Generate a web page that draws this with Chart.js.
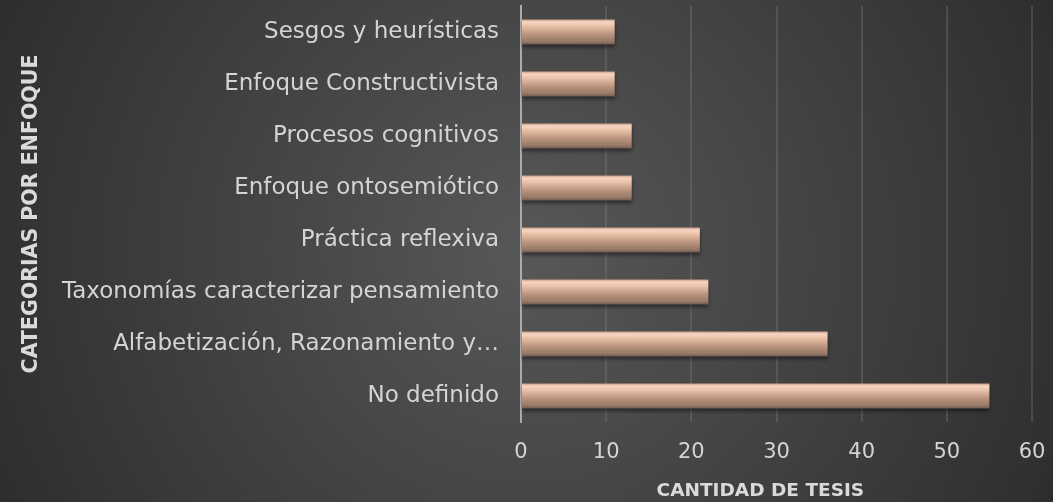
<!DOCTYPE html>
<html>
<head>
<meta charset="utf-8">
<script src="https://cdn.jsdelivr.net/npm/chart.js@4.4.0/dist/chart.umd.min.js"></script>
<style>
  html, body { margin: 0; padding: 0; background: #333; }
  #wrap { width: 1053px; height: 502px; }
</style>
</head>
<body>
<div id="wrap"><canvas id="myChart"></canvas></div>
<script>
// categories top -> bottom
var categories = ['Sesgos y heurísticas', 'Enfoque Constructivista', 'Procesos cognitivos', 'Enfoque ontosemiótico',
  'Práctica reflexiva', 'Taxonomías caracterizar pensamiento', 'Alfabetización, Razonamiento y…', 'No definido'];
var tesis = [11, 11, 13, 13, 21, 22, 36, 55];
var xTicks = [0, 10, 20, 30, 40, 50, 60];

var fontName = "'DejaVu Sans', sans-serif";

// radial dark background
var bgPlugin = {
  id: 'bg',
  beforeDraw: function(chart) {
    var c = chart.ctx, w = chart.width, h = chart.height;
    var g = c.createRadialGradient(w * 0.5, h * 0.5, 10, w * 0.5, h * 0.5, w * 0.6);
    g.addColorStop(0, '#575757');
    g.addColorStop(1, '#2a2a2a');
    c.save();
    c.fillStyle = g;
    c.fillRect(0, 0, w, h);
    c.restore();
  }
};

// soft shadow under the bars
var shadowPlugin = {
  id: 'barShadow',
  beforeDatasetsDraw: function(chart) {
    chart.ctx.save();
    chart.ctx.shadowColor = 'rgba(0,0,0,0.5)';
    chart.ctx.shadowBlur = 4;
    chart.ctx.shadowOffsetY = 3;
  },
  afterDatasetsDraw: function(chart) { chart.ctx.restore(); }
};

function barFill(ctx) {
  var chart = ctx.chart;
  var y = chart.scales.y;
  if (!y || ctx.dataIndex === undefined) return '#c9a08a';
  var cy = y.getPixelForValue(ctx.dataIndex);
  var half = (y.height / categories.length) * 0.48 / 2;
  if (!isFinite(cy) || !isFinite(half) || half <= 0) return '#c9a08a';
  var g = chart.ctx.createLinearGradient(0, cy - half, 0, cy + half);
  g.addColorStop(0, '#c79f88');
  g.addColorStop(0.1, '#f7d6c1');
  g.addColorStop(0.3, '#e6bda3');
  g.addColorStop(0.6, '#b9937e');
  g.addColorStop(0.88, '#977968');
  g.addColorStop(1, '#6e5a4e');
  return g;
}

const config = {
  type: 'bar',
  data: {
    labels: categories,
    datasets: [{
      label: 'Cantidad de tesis',
      data: tesis,
      backgroundColor: barFill,
      borderWidth: 0,
      barPercentage: 0.48,
      categoryPercentage: 1
    }]
  },
  options: {
    indexAxis: 'y',
    responsive: true,
    maintainAspectRatio: false,
    animation: false,
    layout: { padding: { left: 0, right: 21, top: 6, bottom: 0 } },
    plugins: {
      legend: { display: false },
      tooltip: { enabled: false }
    },
    scales: {
      x: {
        min: 0, max: 60,
        afterBuildTicks: function(scale) { scale.ticks = xTicks.map(function(v) { return { value: v }; }); },
        afterFit: function(scale) { scale.height = 80; },
        // label gap made with tick length (tick padding would also widen the chart margins)
        grid: { color: 'rgba(130,130,130,0.32)', lineWidth: 2, tickLength: 18, tickColor: 'rgba(0,0,0,0)' },
        border: { display: false },
        ticks: { color: '#d4d4d4', font: { family: fontName, size: 21 }, padding: 0 },
        // trailing spaces nudge the centred title a little left, as in the original
        title: { display: true, text: 'CANTIDAD DE TESIS     ', color: '#dadada',
          font: { family: fontName, size: 18.5, weight: 'bold' }, padding: { top: 0, bottom: 0 } }
      },
      y: {
        afterFit: function(scale) { scale.width = 521; },
        grid: { display: true, drawOnChartArea: false, drawTicks: true, tickLength: 22, color: 'rgba(0,0,0,0)' },
        border: { display: true, color: '#ababab', width: 2 },
        ticks: { color: '#d4d4d4', font: { family: fontName, size: 23, lineHeight: 0.4 }, padding: 0 },
        title: { display: true, text: 'CATEGORIAS POR ENFOQUE', color: '#dadada',
          font: { family: fontName, size: 20.5, weight: 'bold' }, padding: { top: 19, bottom: 0 } }
      }
    }
  },
  plugins: [bgPlugin, shadowPlugin]
};

var myChart = new Chart(document.getElementById('myChart'), config);
</script>
</body>
</html>
